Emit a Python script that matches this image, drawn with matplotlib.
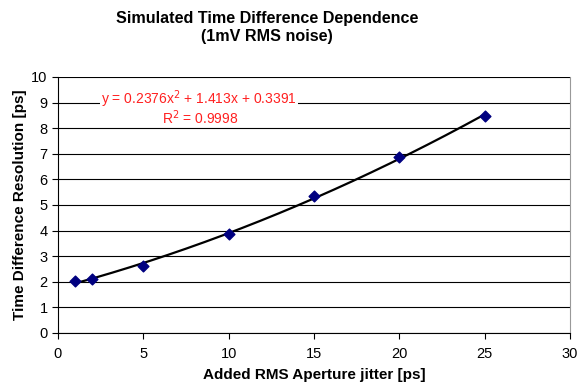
import numpy as np
import matplotlib
matplotlib.use("Agg")
import matplotlib.pyplot as plt

plt.rcParams['font.family'] = ['Liberation Sans', 'DejaVu Sans']

jitter = [1, 2, 5, 10, 15, 20, 25]
resolution = [2.04, 2.12, 2.60, 3.85, 5.34, 6.87, 8.48]
x_ticks = [0, 5, 10, 15, 20, 25, 30]
y_ticks = list(range(0, 11))

fig = plt.figure(figsize=(5.78, 3.88), dpi=100)
ax = fig.add_axes([58/578, 1-333/388, (570-58)/578, (333-77)/388])

coef = np.polyfit(jitter, resolution, 2)
xs = np.linspace(min(jitter), max(jitter), 200)
ax.plot(xs, np.polyval(coef, xs), color='black', lw=1.6, zorder=3)
ax.scatter(jitter, resolution, marker='D', s=30, color='#000080', zorder=4)

ax.set_xlim(0, 30)
ax.set_ylim(0, 10)
ax.set_xticks(x_ticks)
ax.set_yticks(y_ticks)
ax.yaxis.grid(True, color='black', lw=0.8)
ax.set_axisbelow(True)
ax.spines['top'].set_visible(False)
ax.spines['right'].set_color('#999999')
ax.spines['left'].set_color('black')
ax.spines['bottom'].set_color('black')
ax.tick_params(direction='out', length=4, labelsize=10.5, colors='black')
ax.tick_params(axis='x', pad=6)

ax.set_xlabel('Added RMS Aperture jitter [ps]', fontsize=11, fontweight='bold')
ax.xaxis.set_label_coords(0.5, -(368-333)/256, transform=ax.transAxes)
ax.set_ylabel('Time Difference Resolution [ps]', fontsize=11, fontweight='bold')
ax.yaxis.set_label_coords(-(58-27)/512, 0.5, transform=ax.transAxes)

fig.text(267/578, 1-27/388, 'Simulated Time Difference Dependence\n(1mV RMS noise)',
         ha='center', va='center', fontsize=11.6, fontweight='bold', linespacing=1.25)

fig.text(199/578, 1-99/388, 'y = 0.2376x$^2$ + 1.413x + 0.3391',
         ha='center', va='center', fontsize=10, color='#ff2020',
         bbox=dict(facecolor='white', edgecolor='none', pad=0.5))
fig.text(200/578, 1-118/388, 'R$^2$ = 0.9998',
         ha='center', va='center', fontsize=10, color='#ff2020')

fig.savefig('out.png', dpi=100)
